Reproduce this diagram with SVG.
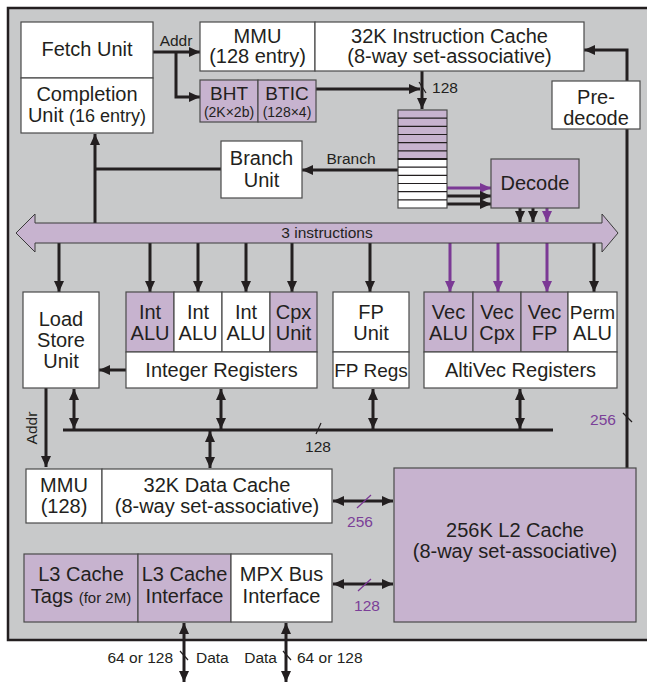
<svg xmlns="http://www.w3.org/2000/svg" width="647" height="683" viewBox="0 0 647 683">
<style>
text{font-family:"Liberation Sans",Arial,sans-serif;fill:#231f20;text-anchor:middle}
.t20{font-size:20px}
.t19{font-size:19px}
.t15{font-size:15.5px}
.t13{font-size:14px}
.pt{fill:#7b3f98}
.bx{stroke:#4a4a4a;stroke-width:1.2}
.w{fill:#ffffff}
.p{fill:#c7b3cf}
.ln{stroke:#231f20;stroke-width:3;fill:none}
.pl{stroke:#7b3995;stroke-width:3;fill:none}
.thin{stroke:#231f20;stroke-width:1.2;fill:none}
.ps{stroke:#7b3995;stroke-width:1.2;fill:none}
.a{marker-end:url(#ah)}
.pa{marker-end:url(#ahp)}
.da{marker-start:url(#ah);marker-end:url(#ah)}
</style>
<defs>
<marker id="ah" viewBox="0 0 11 10" refX="11" refY="5" markerWidth="11" markerHeight="10" markerUnits="userSpaceOnUse" orient="auto-start-reverse"><path d="M0,0 L11,5 L0,10 z" fill="#231f20"/></marker>
<marker id="ahp" viewBox="0 0 11 10" refX="11" refY="5" markerWidth="11" markerHeight="10" markerUnits="userSpaceOnUse" orient="auto-start-reverse"><path d="M0,0 L11,5 L0,10 z" fill="#7b3995"/></marker>
</defs>
<rect x="0" y="0" width="647" height="683" fill="#ffffff"/>
<rect id="panel" x="8" y="8" width="650" height="632" fill="#c8c9ca" stroke="#231f20" stroke-width="2.5"/>

<g id="connectors">
<path class="ln a" d="M153,52 H200"/>
<path class="ln a" d="M176,52 V97 H200"/>
<text class="t15" x="176" y="46">Addr</text>
<path class="ln a" d="M316,89 H420"/>
<path class="ln a" d="M422,71 V109"/>
<path class="thin" d="M419,82 L426,93"/>
<text class="t15" x="445" y="93">128</text>
<path class="ln a" d="M398,170 H302"/>
<text class="t15" x="351" y="164">Branch</text>
<path class="ln" d="M221,169 H95"/>
<path class="ln a" d="M95,223 V134"/>
<path class="pl pa" d="M447,188 H491"/>
<path class="ln a" d="M447,196 H491"/>
<path class="ln a" d="M447,204 H491"/>
<path class="ln a" d="M520,208 V222"/>
<path class="ln a" d="M533,208 V222"/>
<path class="pl pa" d="M547,208 V222"/>
<path class="ln a" d="M59,243 V292"/>
<path class="ln a" d="M150,243 V292"/>
<path class="ln a" d="M198,243 V292"/>
<path class="ln a" d="M246,243 V292"/>
<path class="ln a" d="M292,243 V292"/>
<path class="ln a" d="M370,243 V292"/>
<path class="pl pa" d="M450,243 V292"/>
<path class="pl pa" d="M498,243 V292"/>
<path class="pl pa" d="M547,243 V292"/>
<path class="ln a" d="M594,243 V292"/>
<path class="ln a" d="M126,370 H99"/>
<path class="ln" d="M63,430 H553"/>
<path class="ln da" d="M74,389 V429"/>
<path class="ln da" d="M221,389 V429"/>
<path class="ln da" d="M373,389 V429"/>
<path class="ln da" d="M520,389 V429"/>
<path class="ln da" d="M210,431 V468"/>
<path class="thin" d="M316,434 L321,423"/>
<text class="t15" x="318" y="452">128</text>
<path class="ln a" d="M46,388 V467"/>
<text class="t15" transform="translate(37,428) rotate(-90)" x="0" y="0">Addr</text>
<path class="ln da" d="M333,501 H393"/>
<path class="ps" d="M357,508 L371,495"/>
<text class="t15 pt" x="360" y="527">256</text>
<path class="ln da" d="M333,584 H393"/>
<path class="ps" d="M358,591 L371,579"/>
<text class="t15 pt" x="367" y="611">128</text>
<path class="ln a" d="M627,468 V50 H584"/>
<path class="thin" d="M623,413 L632,422"/>
<text class="t15 pt" x="603" y="425">256</text>
<path class="ln da" d="M184,623 V682"/>
<path class="ln da" d="M286,623 V682"/>
<path class="thin" d="M180,651 L188,660"/>
<path class="thin" d="M283,651 L291,660"/>
<text class="t15" x="173" y="663" style="text-anchor:end">64 or 128</text>
<text class="t15" x="196" y="663" style="text-anchor:start">Data</text>
<text class="t15" x="277" y="663" style="text-anchor:end">Data</text>
<text class="t15" x="297" y="663" style="text-anchor:start">64 or 128</text>
</g>

<g id="bus">
<polygon points="16,233 35,214 35,223 602,223 602,214 618,233 602,252 602,243 35,243 35,252" fill="#c7b3cf" stroke="#3a3a3a" stroke-width="1"/>
<text class="t15" x="327" y="238">3 instructions</text>
</g>

<g id="fetch-unit">
<rect class="bx w" x="21" y="22" width="132" height="56"/>
<text class="t20" x="87" y="56">Fetch Unit</text>
</g>
<g id="completion-unit">
<rect class="bx w" x="21" y="78" width="132" height="55"/>
<text class="t20" x="87" y="101">Completion</text>
<text class="t20" x="87" y="122">Unit <tspan style="font-size:18px">(16 entry)</tspan></text>
</g>

<g id="immu">
<rect class="bx w" x="200" y="22" width="115" height="49"/>
<text class="t20" x="257.5" y="43">MMU</text>
<text class="t20" x="257.5" y="63">(128 entry)</text>
</g>
<g id="icache">
<rect class="bx w" x="315" y="22" width="269" height="49"/>
<text class="t20" x="449.5" y="43">32K Instruction Cache</text>
<text class="t20" x="449.5" y="63">(8-way set-associative)</text>
</g>

<g id="bht">
<rect class="bx p" x="200" y="80" width="58" height="42"/>
<text class="t19" x="229" y="100">BHT</text>
<text class="t13" x="229" y="117">(2K×2b)</text>
</g>
<g id="btic">
<rect class="bx p" x="258" y="80" width="58" height="42"/>
<text class="t19" x="287" y="100">BTIC</text>
<text class="t13" x="287" y="117">(128×4)</text>
</g>

<g id="predecode">
<rect class="bx w" x="552" y="81" width="88" height="48"/>
<text class="t20" x="596" y="104">Pre-</text>
<text class="t20" x="596" y="125">decode</text>
</g>

<g id="queue">
<rect class="bx p" x="398" y="110" width="49" height="49"/>
<rect class="bx w" x="398" y="159" width="49" height="49"/>
<path class="thin" d="M398,118.2 H447 M398,126.3 H447 M398,134.5 H447 M398,142.7 H447 M398,150.8 H447 M398,167.2 H447 M398,175.3 H447 M398,183.5 H447 M398,191.7 H447 M398,199.8 H447"/>
<path d="M398,159 H447" stroke="#231f20" stroke-width="2.2"/>
</g>

<g id="branch-unit">
<rect class="bx w" x="221" y="141" width="81" height="57"/>
<text class="t20" x="261.5" y="165">Branch</text>
<text class="t20" x="261.5" y="187">Unit</text>
</g>

<g id="decode">
<rect class="bx p" x="491" y="159" width="88" height="49"/>
<text class="t20" x="535" y="190">Decode</text>
</g>

<g id="load-store-unit">
<rect class="bx w" x="23" y="292" width="76" height="96"/>
<text class="t20" x="61" y="326">Load</text>
<text class="t20" x="61" y="347">Store</text>
<text class="t20" x="61" y="368">Unit</text>
</g>

<g id="integer-block">
<rect class="bx p" x="126" y="292" width="48" height="60"/>
<rect class="bx w" x="174" y="292" width="48" height="60"/>
<rect class="bx w" x="222" y="292" width="48" height="60"/>
<rect class="bx p" x="270" y="292" width="47" height="60"/>
<rect class="bx w" x="126" y="352" width="191" height="36"/>
<text class="t20" x="150" y="319">Int</text><text class="t20" x="150" y="340">ALU</text>
<text class="t20" x="198" y="319">Int</text><text class="t20" x="198" y="340">ALU</text>
<text class="t20" x="246" y="319">Int</text><text class="t20" x="246" y="340">ALU</text>
<text class="t20" x="293.5" y="319">Cpx</text><text class="t20" x="293.5" y="340">Unit</text>
<text class="t20" x="221.5" y="377">Integer Registers</text>
</g>

<g id="fp-block">
<rect class="bx w" x="333" y="292" width="76" height="60"/>
<rect class="bx w" x="333" y="352" width="76" height="36"/>
<text class="t20" x="371" y="319">FP</text><text class="t20" x="371" y="340">Unit</text>
<text class="t19" x="371" y="377">FP Regs</text>
</g>

<g id="altivec-block">
<rect class="bx p" x="424" y="292" width="49" height="60"/>
<rect class="bx p" x="473" y="292" width="48" height="60"/>
<rect class="bx p" x="521" y="292" width="47" height="60"/>
<rect class="bx w" x="568" y="292" width="49" height="60"/>
<rect class="bx w" x="424" y="352" width="193" height="36"/>
<text class="t20" x="448.5" y="319">Vec</text><text class="t20" x="448.5" y="340">ALU</text>
<text class="t20" x="497" y="319">Vec</text><text class="t20" x="497" y="340">Cpx</text>
<text class="t20" x="544.5" y="319">Vec</text><text class="t20" x="544.5" y="340">FP</text>
<text class="t19" x="592.5" y="319">Perm</text><text class="t20" x="592.5" y="340">ALU</text>
<text class="t20" x="520.5" y="377">AltiVec Registers</text>
</g>

<g id="dmmu">
<rect class="bx w" x="26" y="469" width="76" height="54"/>
<text class="t20" x="64" y="492">MMU</text>
<text class="t20" x="64" y="513">(128)</text>
</g>
<g id="dcache">
<rect class="bx w" x="102" y="469" width="230" height="54"/>
<text class="t20" x="217" y="492">32K Data Cache</text>
<text class="t20" x="217" y="513">(8-way set-associative)</text>
</g>

<g id="l2-cache">
<rect class="bx p" x="394" y="468" width="242" height="154"/>
<text class="t20" x="515" y="537">256K L2 Cache</text>
<text class="t20" x="515" y="558">(8-way set-associative)</text>
</g>

<g id="l3-tags">
<rect class="bx p" x="24" y="554" width="114" height="68"/>
<text class="t20" x="81" y="581">L3 Cache</text>
<text class="t20" x="81" y="603">Tags <tspan style="font-size:15px">(for 2M)</tspan></text>
</g>
<g id="l3-interface">
<rect class="bx p" x="138" y="554" width="93" height="68"/>
<text class="t20" x="184.5" y="581">L3 Cache</text>
<text class="t20" x="184.5" y="603">Interface</text>
</g>
<g id="mpx-bus">
<rect class="bx w" x="231" y="554" width="101" height="68"/>
<text class="t20" x="281.5" y="581">MPX Bus</text>
<text class="t20" x="281.5" y="603">Interface</text>
</g>
</svg>
